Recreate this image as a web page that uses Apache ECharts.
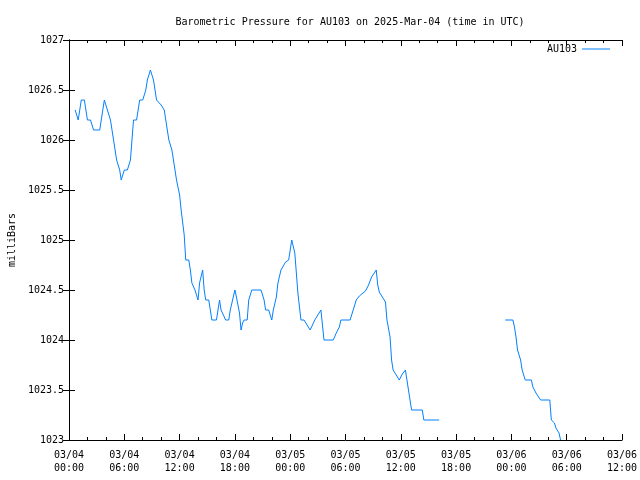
<!DOCTYPE html>
<html>
<head>
<meta charset="utf-8">
<script src="https://cdn.jsdelivr.net/npm/echarts@6/dist/echarts.min.js"></script>
<style>html,body{margin:0;padding:0;background:#fff}#c{width:640px;height:480px}</style>
</head>
<body>
<div id="c"></div>
<script>
// Time stamps (UTC, "MM/DD HH:MM") and pressure values (mb); null = gap in record
const times = [
 "03/04 00:40","03/04 01:00","03/04 01:10","03/04 01:20","03/04 01:40","03/04 01:50","03/04 02:00","03/04 02:20",
 "03/04 02:40","03/04 03:20","03/04 03:50","03/04 04:30","03/04 04:50","03/04 05:10","03/04 05:30","03/04 05:40",
 "03/04 06:00","03/04 06:20","03/04 06:40","03/04 06:50","03/04 07:00","03/04 07:20","03/04 07:30","03/04 07:40",
 "03/04 08:00","03/04 08:20","03/04 08:30","03/04 08:50","03/04 09:10","03/04 09:20","03/04 09:30","03/04 10:00",
 "03/04 10:20","03/04 10:30","03/04 10:50","03/04 11:10","03/04 11:20","03/04 11:40","03/04 12:00","03/04 12:10",
 "03/04 12:30","03/04 12:40","03/04 13:00","03/04 13:10","03/04 13:20","03/04 13:40","03/04 14:00","03/04 14:10",
 "03/04 14:30","03/04 14:40","03/04 14:50","03/04 15:10","03/04 15:20","03/04 15:30","03/04 16:00","03/04 16:20",
 "03/04 16:30","03/04 17:00","03/04 17:20","03/04 17:30","03/04 18:00","03/04 18:10","03/04 18:30","03/04 18:40",
 "03/04 18:50","03/04 19:00","03/04 19:20","03/04 19:30","03/04 19:50","03/04 20:50","03/04 21:10","03/04 21:20",
 "03/04 21:40","03/04 22:00","03/04 22:10","03/04 22:30","03/04 22:40","03/04 23:00","03/04 23:30","03/04 23:50",
 "03/05 00:10","03/05 00:30","03/05 00:40","03/05 00:50","03/05 01:10","03/05 01:30","03/05 02:10","03/05 02:40",
 "03/05 03:20","03/05 03:40","03/05 04:40","03/05 05:00","03/05 05:20","03/05 05:30","03/05 06:30","03/05 06:50",
 "03/05 07:10","03/05 07:30","03/05 08:10","03/05 08:30","03/05 08:50","03/05 09:20","03/05 09:30","03/05 09:40",
 "03/05 10:00","03/05 10:20","03/05 10:30","03/05 10:50","03/05 11:00","03/05 11:10","03/05 11:30","03/05 11:50",
 "03/05 12:10","03/05 12:30","03/05 12:40","03/05 12:50","03/05 13:00","03/05 13:10","03/05 14:20","03/05 14:30",
 "03/05 16:10","03/05 20:00",
 "03/05 23:20","03/06 00:10","03/06 00:20","03/06 00:30","03/06 00:40","03/06 01:00","03/06 01:10","03/06 01:30",
 "03/06 02:10","03/06 02:20","03/06 02:40","03/06 03:10","03/06 04:10","03/06 04:20","03/06 04:40","03/06 04:50",
 "03/06 05:10","03/06 05:20"
];
const pressure = [
 1026.3,1026.2,1026.3,1026.4,1026.4,1026.3,1026.2,1026.2,
 1026.1,1026.1,1026.4,1026.2,1026.0,1025.8,1025.7,1025.6,
 1025.7,1025.7,1025.8,1026.0,1026.2,1026.2,1026.3,1026.4,
 1026.4,1026.5,1026.6,1026.7,1026.6,1026.5,1026.4,1026.35,
 1026.3,1026.2,1026.0,1025.9,1025.8,1025.6,1025.45,1025.3,
 1025.05,1024.8,1024.8,1024.7,1024.57,1024.5,1024.4,1024.57,
 1024.7,1024.5,1024.4,1024.4,1024.3,1024.2,1024.2,1024.4,
 1024.3,1024.2,1024.2,1024.3,1024.5,1024.43,1024.27,1024.1,
 1024.17,1024.2,1024.2,1024.4,1024.5,1024.5,1024.4,1024.3,
 1024.3,1024.2,1024.3,1024.43,1024.57,1024.7,1024.78,1024.8,
 1025.0,1024.87,1024.67,1024.47,1024.2,1024.2,1024.1,1024.2,
 1024.3,1024.0,1024.0,1024.07,1024.13,1024.2,1024.2,1024.3,
 1024.4,1024.44,1024.49,1024.55,1024.63,1024.7,1024.55,1024.48,
 1024.43,1024.38,1024.2,1024.03,1023.8,1023.7,1023.65,1023.6,
 1023.66,1023.7,1023.6,1023.5,1023.4,1023.3,1023.3,1023.2,
 1023.2,null,
 1024.2,1024.2,1024.13,1024.03,1023.9,1023.8,1023.7,1023.6,
 1023.6,1023.53,1023.47,1023.4,1023.4,1023.2,1023.17,1023.12,
 1023.07,1023.0
];
const xTickDays = ["03/04","03/05","03/06"];
const titleText = "Barometric Pressure for AU103 on 2025-Mar-04 (time in UTC)";
const seriesName = "AU103";
const yName = "milliBars";

function toHours(s) {
  const day = parseInt(s.slice(3,5),10);
  const hh = parseInt(s.slice(6,8),10);
  const mm = parseInt(s.slice(9,11),10);
  return (day - 4) * 24 + hh + mm / 60;
}
const data = times.map((t, i) => [toHours(t), pressure[i]]);

function xLabel(v) {
  const d = Math.floor(v / 24);
  const h = v - d * 24;
  const day = xTickDays[d] !== undefined ? xTickDays[d] : "";
  return day + "\n" + String(h).padStart(2, "0") + ":00";
}
function yLabel(v) {
  return String(Math.round(v * 10) / 10);
}

const FONT = "DejaVu Sans Mono";
const axisCommon = {
  axisLine: { show: true, lineStyle: { color: "#000", width: 1 } },
  splitLine: { show: false },
};

const chart = echarts.init(document.getElementById("c"), null, { renderer: "canvas" });
chart.setOption({
  animation: false,
  backgroundColor: "#fff",
  title: {
    text: titleText, left: 345, textAlign: "center", top: 12,
    textStyle: { fontFamily: FONT, fontSize: 10, fontWeight: "normal", color: "#000" }
  },
  legend: {
    right: 25, top: 39, align: "right", itemWidth: 28, itemHeight: 1, itemGap: 6,
    data: [{ name: seriesName, icon: "rect" }],
    textStyle: { fontFamily: FONT, fontSize: 10, color: "#000" },
  },
  grid: { left: 69, right: 18, top: 40, bottom: 40, containLabel: false, outerBoundsMode: "none" },
  xAxis: [
    Object.assign({}, axisCommon, {
      type: "value", min: 0, max: 60, interval: 6, position: "bottom",
      axisTick: { inside: true, length: 6, lineStyle: { color: "#000" } },
      minorTick: { show: true, splitNumber: 3, length: 3, lineStyle: { color: "#000" } },
      axisLabel: { formatter: xLabel, fontFamily: FONT, fontSize: 10, color: "#000", margin: 9, lineHeight: 13 }
    }),
    Object.assign({}, axisCommon, {
      type: "value", min: 0, max: 60, interval: 6, position: "top",
      axisTick: { inside: true, length: 6, lineStyle: { color: "#000" } },
      minorTick: { show: true, splitNumber: 3, length: 3, lineStyle: { color: "#000" } },
      axisLabel: { show: false }
    })
  ],
  yAxis: [
    Object.assign({}, axisCommon, {
      type: "value", min: 1023, max: 1027, interval: 0.5, position: "left",
      name: yName, nameLocation: "middle", nameGap: 52, nameRotate: 90,
      nameTextStyle: { fontFamily: FONT, fontSize: 10, color: "#000" },
      axisTick: { inside: true, length: 6, lineStyle: { color: "#000" } },
      axisLabel: { formatter: yLabel, fontFamily: FONT, fontSize: 10, color: "#000", margin: 5 }
    }),
    Object.assign({}, axisCommon, {
      type: "value", min: 1023, max: 1027, interval: 0.5, position: "right",
      axisTick: { inside: true, length: 6, lineStyle: { color: "#000" } },
      axisLabel: { show: false }
    })
  ],
  series: [{
    name: seriesName, type: "line", data: data, showSymbol: false, symbol: "none",
    connectNulls: false, clip: true,
    lineStyle: { color: "#0080ff", width: 1 }, itemStyle: { color: "#0080ff" }
  }]
});
</script>
</body>
</html>
